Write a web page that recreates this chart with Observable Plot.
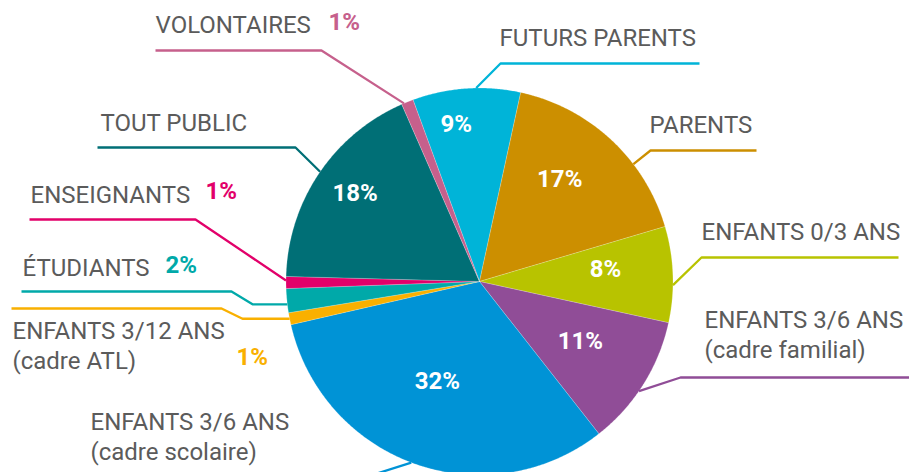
<!DOCTYPE html>
<html><head><meta charset="utf-8">
<script src="https://cdn.jsdelivr.net/npm/d3@7"></script>
<script src="https://cdn.jsdelivr.net/npm/@observablehq/plot@0.6"></script>
<style>
body{margin:0;background:#fff;}
#chart svg{display:block;}
</style></head><body><div id="chart"></div>
<script>
// ---- data ----
const categories = ["FUTURS PARENTS","PARENTS","ENFANTS 0/3 ANS","ENFANTS 3/6 ANS\n(cadre familial)","ENFANTS 3/6 ANS\n(cadre scolaire)","ENFANTS 3/12 ANS\n(cadre ATL)","ÉTUDIANTS","ENSEIGNANTS","TOUT PUBLIC","VOLONTAIRES"];
const values = [9,17,8,11,32,1,2,1,18,1];
const pctLabels = ["9%","17%","8%","11%","32%","1%","2%","1%","18%","1%"];

// ---- styles ----
const colors = ["#00b4d8","#cc8f00","#b8c300","#904d97","#0093d6","#f9b000","#00a9a9","#e2006a","#006f76","#c6608c"];
const textGray = "#5b5b5b";

// ---- layout ----
const W = 909, H = 472;
const FS = 24, LH = 1.25;
const pieGeo = {cx: 479, cy: 281, r: 193.5, startDeg: -20.1};
// label: cap-top position; pct: inside (polar t within slice, radius) or outside (x, cap-top)
// leader: horizontal y, from x, to x, optional knee x (flat end), t within slice for edge anchor
const layout = [
  {lx: 499, ly: 28,  inT: 0.36, inR: 158.7, leader: {y: 63,  x0: 699, x1: 500, t: 0.59}},
  {lx: 649, ly: 115, inT: 0.42, inR: 130.3, leader: {y: 150, x0: 756, x1: 650, t: 0.66}},
  {lx: 701, ly: 222, inT: 0.375, inR: 126.6, leader: {y: 257, x0: 898, x1: 701, t: 0.61}},
  {lx: 704, ly: 310, inT: 0.46, inR: 117.2, leader: {y: 377, x0: 909, x1: 680, t: 0.56}},
  {lx: 90,  ly: 412, inT: 0.53, inR: 108.2, leader: {y: 477, x0: 90,  x1: 364, t: 0.51}},
  {lx: 12,  ly: 321, px: 236, py: 347, leader: {y: 308, x0: 11, x1: 221, knee: 242, t: 0.5}},
  {lx: 22,  ly: 258, px: 165, py: 255, leader: {y: 291, x0: 21, x1: 231, knee: 252, t: 0.35}},
  {lx: 30,  ly: 185, px: 205, py: 181, leader: {y: 219, x0: 29, x1: 195, t: 0.67}},
  {lx: 100, ly: 113, inT: 0.52, inR: 152.2, leader: {y: 147, x0: 97, x1: 295, t: 0.51}},
  {lx: 155, ly: 15,  px: 328, py: 12,  leader: {y: 50,  x0: 155, x1: 321, t: 0.2}}
];

const s0 = pieGeo.startDeg * Math.PI / 180;
const arcs = d3.pie().sort(null).value(d => d).startAngle(s0).endAngle(s0 + 2 * Math.PI)(values);
const pt = (a, r) => [pieGeo.cx + r * Math.sin(a), pieGeo.cy - r * Math.cos(a)];

// slice polygons
const slicePts = [];
arcs.forEach((a, i) => {
  const key = categories[i];
  slicePts.push({key, x: pieGeo.cx, y: pieGeo.cy});
  const n = Math.max(2, Math.ceil((a.endAngle - a.startAngle) / (0.4 * Math.PI / 180)));
  for (let k = 0; k <= n; k++) {
    const ang = a.startAngle + (a.endAngle - a.startAngle) * k / n;
    const [x, y] = pt(ang, pieGeo.r);
    slicePts.push({key, x, y});
  }
  slicePts.push({key, x: pieGeo.cx, y: pieGeo.cy});
});

// leaders
const leaderPts = [];
arcs.forEach((a, i) => {
  const key = categories[i], L = layout[i].leader;
  const ang = a.startAngle + (a.endAngle - a.startAngle) * L.t;
  const [ex, ey] = pt(ang, pieGeo.r);
  leaderPts.push({key, x: L.x0, y: L.y});
  leaderPts.push({key, x: L.x1, y: L.y});
  if (L.knee != null) leaderPts.push({key, x: L.knee, y: ey});
  leaderPts.push({key, x: ex, y: ey});
});

// Plot's "top" line anchor offsets the first line by 0.71*lineHeight em; compensate so y = cap top
const topFix = 0.71 * (LH - 1) * FS;
const labelRows = categories.map((c, i) => ({key: c, text: c, x: layout[i].lx, y: layout[i].ly - topFix}));
const insidePct = [], outsidePct = [];
arcs.forEach((a, i) => {
  const Lo = layout[i];
  if (Lo.inT != null) {
    const [x, y] = pt(a.startAngle + (a.endAngle - a.startAngle) * Lo.inT, Lo.inR);
    insidePct.push({key: categories[i], text: pctLabels[i], x, y});
  } else {
    outsidePct.push({key: categories[i], text: pctLabels[i], x: Lo.px, y: Lo.py});
  }
});

const font = "Roboto, 'Noto Sans', sans-serif";
const chart = Plot.plot({
  width: W, height: H, margin: 0,
  x: {domain: [0, W], range: [0, W], axis: null},
  y: {domain: [0, H], range: [0, H], axis: null},
  color: {domain: categories, range: colors},
  marks: [
    Plot.line(slicePts, {x: "x", y: "y", z: "key", fill: "key", stroke: "white", strokeWidth: 0.4, strokeOpacity: 0.5, curve: "linear"}),
    Plot.line(leaderPts, {x: "x", y: "y", z: "key", stroke: "key", strokeWidth: 2.3, strokeLinejoin: "miter", strokeLinecap: "butt", curve: "linear"}),
    Plot.text(labelRows, {x: "x", y: "y", text: "text", textAnchor: "start", lineAnchor: "top", lineHeight: LH, fontSize: FS, fontWeight: 400, fontFamily: font, fill: textGray}),
    Plot.text(outsidePct, {x: "x", y: "y", text: "text", textAnchor: "start", lineAnchor: "top", fontSize: FS, fontWeight: 700, fontFamily: font, fill: "key"}),
    Plot.text(insidePct, {x: "x", y: "y", text: "text", textAnchor: "middle", lineAnchor: "middle", fontSize: FS, fontWeight: 700, fontFamily: font, fill: "white"})
  ]
});
document.getElementById("chart").appendChild(chart);
</script></body></html>
